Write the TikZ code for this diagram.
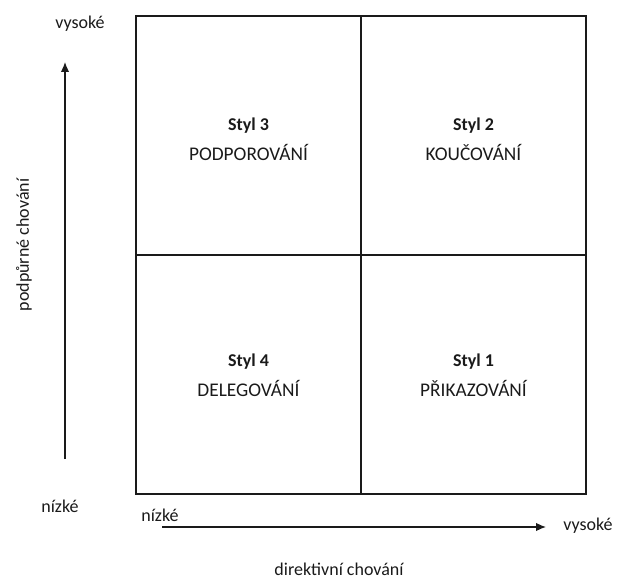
\documentclass[tikz,border=0pt]{standalone}
\usepackage{fontspec}
\setmainfont{Carlito}
\usetikzlibrary{arrows.meta,positioning}
\definecolor{ink}{HTML}{1A1A1A}

\begin{document}
\begin{tikzpicture}[x=0.75pt,y=-0.75pt,>=Latex,font=\fontsize{13.5}{16}\selectfont]
  \tikzset{
    quad/.style={draw=ink,line width=0.9pt,minimum width=225*0.75pt,minimum height=239*0.75pt,inner sep=0pt},
    title/.style={text=ink,font=\fontsize{13.5}{16}\selectfont\bfseries},
    label/.style={text=ink,inner sep=1pt},
    caps/.style={text=ink,inner sep=1pt,font=\fontsize{14.5}{16}\selectfont},
    axis/.style={ink,line width=0.9pt,-{Latex[length=2.6mm,width=2.2mm]}}
  }
  \useasboundingbox (0,0) rectangle (618,578);

  % Quadrants.
  \node[quad] (Q3) at (248.5,135.5) {};
  \node[quad] (Q2) at (473.5,135.5) {};
  \node[quad] (Q4) at (248.5,374.5) {};
  \node[quad] (Q1) at (473.5,374.5) {};

  \node[title] (S3) at (248.5,126) {Styl 3};
  \node[caps] (P3) at (248.5,152) {PODPOROVÁNÍ};
  \node[title] (S2) at (473.5,126) {Styl 2};
  \node[caps] (P2) at (473.5,152) {KOUČOVÁNÍ};
  \node[title] (S4) at (248.5,362) {Styl 4};
  \node[caps] (P4) at (248.5,388) {DELEGOVÁNÍ};
  \node[title] (S1) at (473.5,362) {Styl 1};
  \node[caps] (P1) at (473.5,388) {PŘIKAZOVÁNÍ};

  % Vertical axis.
  \coordinate (Vlo) at (65,459);
  \coordinate (Vhi) at (65,62);
  \draw[axis] (Vlo) -- (Vhi);
  \node[label] (Vtop) at (80,24) {vysoké};
  \node[label] (Vbot) at (60,506) {nízké};
  \node[label,rotate=90] (Vname) at (24,245) {podpůrné chování};

  % Horizontal axis.
  \coordinate (Hlo) at (162,527);
  \coordinate (Hhi) at (546,527);
  \draw[axis] (Hlo) -- (Hhi);
  \node[label] (Hlow) at (160,515) {nízké};
  \node[label] (Hhigh) at (588,526) {vysoké};
  \node[label] (Hname) at (339,569) {direktivní chování};
\end{tikzpicture}
\end{document}
